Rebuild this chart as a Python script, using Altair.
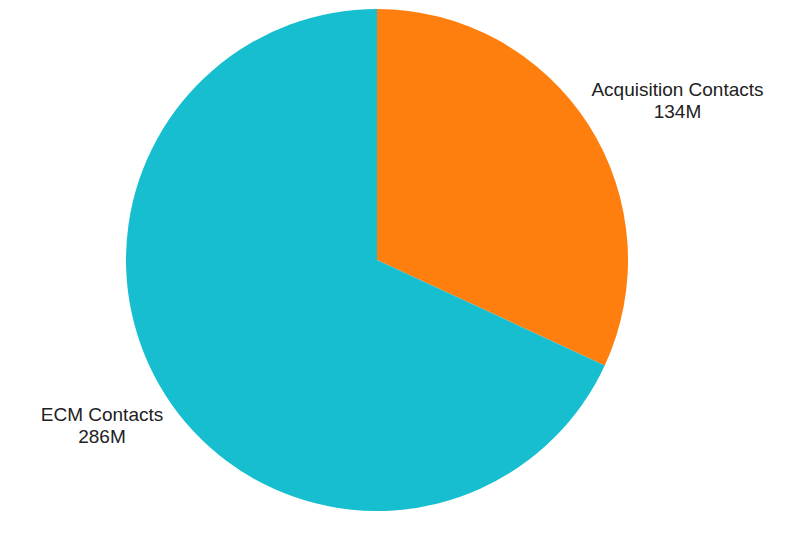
import altair as alt
import pandas as pd

categories = ["Acquisition Contacts", "ECM Contacts"]
values = [134, 286]
value_labels = ["134M", "286M"]
colors = ["#ff7f0e", "#17becf"]

df = pd.DataFrame({"category": categories, "value": values, "label": value_labels,
                   "order": [0, 1]})
df["text"] = df.apply(lambda r: [r["category"], r["label"]], axis=1)

CX, CY, R = 369, 252, 251

pie = alt.Chart(df).mark_arc(stroke=None).encode(
    theta=alt.Theta("value:Q", stack=True),
    order=alt.Order("order:Q"),
    color=alt.Color("category:N", scale=alt.Scale(domain=categories, range=colors), legend=None),
    x=alt.value(CX), y=alt.value(CY),
    radius=alt.value(R),
)

txt_style = dict(font="Liberation Sans", fontSize=19, color="#222222", align="center",
                 baseline="alphabetic", lineHeight=22)

lab1 = alt.Chart(df[df.category == categories[0]]).mark_text(**txt_style).encode(
    text="text", x=alt.value(669.5), y=alt.value(88))
lab2 = alt.Chart(df[df.category == categories[1]]).mark_text(**txt_style).encode(
    text="text", x=alt.value(94), y=alt.value(413))

chart = alt.layer(pie, lab1, lab2).properties(
    width=779, height=526, autosize=alt.AutoSizeParams(type="none"), padding=0,
    background="white"
).configure(view=alt.ViewConfig(stroke=None))

chart.save("out.html", embed_options={"renderer": "svg", "actions": False})
